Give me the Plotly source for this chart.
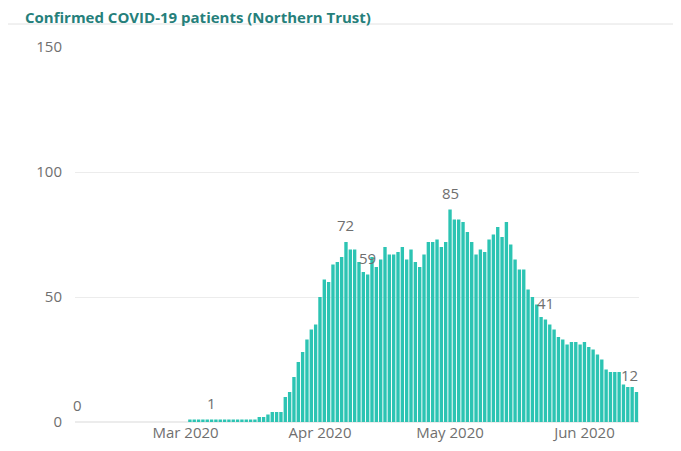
"""
Confirmed COVID-19 patients (Northern Trust) - daily bar chart
"""
import pandas as pd
import plotly.graph_objects as go

# daily values
feb_values = [0, 0, 0, 0, 0, 0, 0, 0, 0, 0, 0, 0, 0, 0, 0, 0, 0, 0, 0, 0, 0, 0, 0, 0, 0]  # Feb 5 - Feb 29
mar_values = [0, 1, 1, 1, 1, 1, 1, 1, 1, 1, 1, 1, 1, 1, 1, 1, 1, 2, 2, 3, 4, 4, 4,
              10, 12, 18, 24, 28, 33, 37, 39]
apr_values = [50, 57, 56, 63, 64, 66, 72, 69, 69, 64, 60, 59, 66, 62, 65, 70, 67, 67,
              68, 70, 65, 69, 64, 62, 67, 72, 72, 73, 70, 72]
may_values = [85, 81, 81, 80, 76, 72, 67, 69, 68, 73, 75, 78, 74, 80, 71, 65, 61, 61,
              53, 50, 47, 42, 41, 39, 37, 34, 33, 31, 32, 32, 31]
jun_values = [32, 30, 29, 27, 25, 21, 20, 20, 20, 15, 14, 14, 12]

start_date = "2020-02-05"
values = feb_values + mar_values + apr_values + may_values + jun_values
dates = pd.date_range(start_date, periods=len(values), freq="D")

# data labels shown on the chart
label_dates = ["2020-02-05", "2020-03-07", "2020-04-07", "2020-04-12",
               "2020-05-01", "2020-05-23", "2020-06-13"]

BAR_COLOR = "#2cc4b3"
TEXT_GRAY = "#6f6f6f"
GRID = "#ececec"
FONT = "Segoe UI, Open Sans, sans-serif"

series = pd.Series(values, index=dates)

fig = go.Figure()
fig.add_trace(go.Bar(x=dates, y=values, marker=dict(color=BAR_COLOR, line=dict(width=0)),
                     hoverinfo="x+y"))

for d in label_dates:
    v = series[pd.Timestamp(d)]
    fig.add_annotation(x=d, y=v, text=str(v), showarrow=False, yanchor="middle",
                       yshift=17, xshift=-7 if d == label_dates[-1] else 0,
                       font=dict(family=FONT, size=15, color=TEXT_GRAY))

# thin rule under the title
fig.add_shape(type="line", xref="paper", yref="paper",
              x0=-80 / 564, x1=601 / 564, y0=398 / 375, y1=398 / 375,
              line=dict(color="#e2e2e2", width=1))

# the page adds an 8px body margin, so the figure is laid out 8px up/left
fig.update_layout(
    width=681, height=451,
    margin=dict(l=67, r=50, t=39, b=37),
    paper_bgcolor="white", plot_bgcolor="white",
    showlegend=False, bargap=0.22,
    title=dict(text="<b>Confirmed COVID-19 patients (Northern Trust)</b>",
               x=17 / 681, xanchor="left", y=1 - 9.5 / 451, yanchor="middle",
               font=dict(family=FONT, size=15, color="#267f7b")),
    font=dict(family=FONT, size=15, color=TEXT_GRAY),
)
fig.update_xaxes(type="date", range=["2020-02-04 12:00", "2020-06-13 14:00"],
                 tickformat="%b %Y", dtick="M1", tick0="2020-03-01",
                 showgrid=False, showline=False, zeroline=False, ticks="",
                 tickfont=dict(size=15, color=TEXT_GRAY))
fig.update_yaxes(range=[0, 150], tickvals=[0, 50, 100, 150], showgrid=True,
                 gridcolor=GRID, gridwidth=1, zeroline=True, zerolinecolor=GRID,
                 showline=False, ticks="", ticklabelstandoff=12,
                 tickfont=dict(size=15, color=TEXT_GRAY))

fig.write_html("out.html")
